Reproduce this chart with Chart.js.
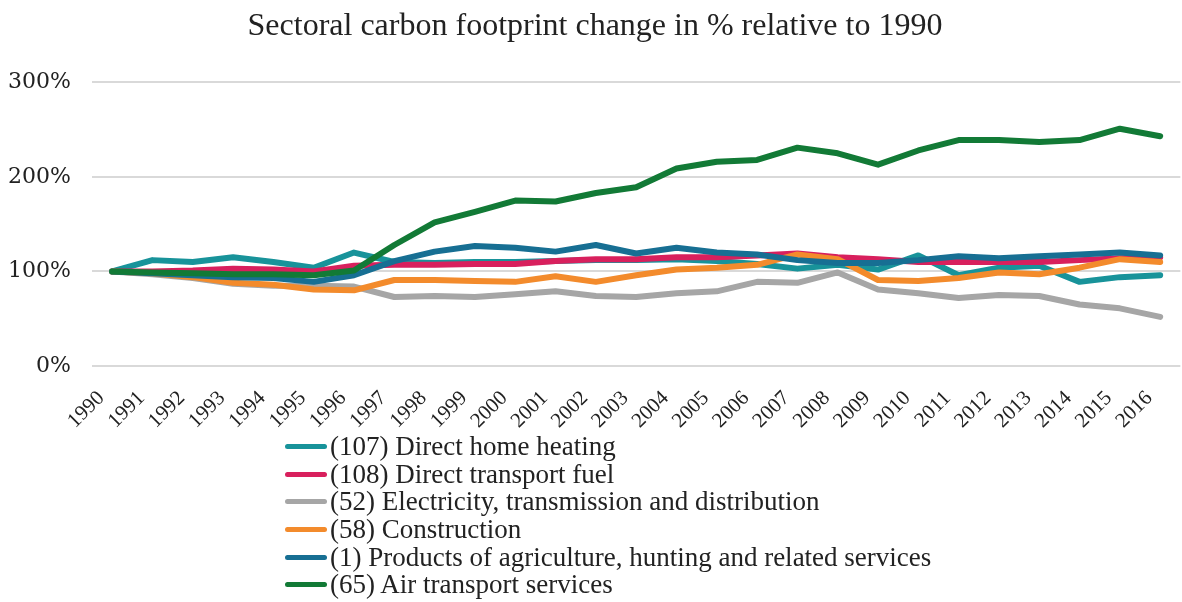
<!DOCTYPE html>
<html lang="en">
<head>
    <meta charset="UTF-8">
    <title>Sectoral carbon footprint change</title>
    <script src="https://cdn.jsdelivr.net/npm/chart.js"></script>
    <style>
        body {
            margin: 0;
            padding: 0;
            background: #ffffff;
            overflow: hidden;
        }
        .wrap {
            position: relative;
            width: 1190px;
            height: 602px;
        }
        .chart-box {
            position: absolute;
            left: 0;
            top: 0;
            width: 1190px;
            height: 432px;
        }
        .legend {
            position: absolute;
            left: 285px;
            top: 433px;
            margin: 0;
            padding: 0;
            list-style: none;
            font-family: "Liberation Serif", serif;
            font-size: 27px;
            color: #222222;
        }
        .legend li {
            display: flex;
            align-items: center;
            height: 27.6px;
            white-space: nowrap;
        }
        .legend .swatch {
            display: inline-block;
            width: 42px;
            height: 5px;
            border-radius: 3px;
            margin-right: 3px;
        }
    </style>
</head>
<body>
    <div class="wrap">
        <div class="chart-box">
            <canvas id="footprintChart"></canvas>
        </div>
        <ul class="legend" id="legend"></ul>
    </div>

    <script>
        const years = ['1990', '1991', '1992', '1993', '1994', '1995', '1996', '1997', '1998', '1999',
            '2000', '2001', '2002', '2003', '2004', '2005', '2006', '2007', '2008', '2009',
            '2010', '2011', '2012', '2013', '2014', '2015', '2016'];

        // change relative to 1990, in %
        const homeHeating = [100, 112, 110, 115, 110, 104, 120, 110, 109, 110, 110, 111, 112, 112, 113,
            111, 108, 103, 107, 102, 117, 96, 104, 106, 89, 94, 96];
        const transportFuel = [100, 100, 101, 103, 102, 100, 106, 107, 107, 108, 108, 111, 113, 113, 115,
            115, 117, 119, 115, 113, 110, 110, 110, 110, 112, 114, 115];
        const electricity = [100, 97, 93, 87, 85, 85, 84, 73, 74, 73, 76, 79, 74, 73, 77,
            79, 89, 88, 99, 81, 77, 72, 75, 74, 65, 61, 52];
        const construction = [100, 98, 94, 88, 86, 81, 80, 91, 91, 90, 89, 95, 89, 96, 102,
            104, 107, 118, 113, 91, 90, 93, 99, 97, 104, 113, 110];
        const agriculture = [100, 98, 96, 94, 93, 89, 96, 111, 121, 127, 125, 121, 128, 119, 125,
            120, 118, 112, 109, 109, 112, 116, 114, 116, 118, 120, 117];
        const airTransport = [100, 99, 98, 97, 97, 96, 101, 128, 152, 163, 175, 174, 183, 189, 209,
            216, 218, 231, 225, 213, 228, 239, 239, 237, 239, 251, 243];

        const yTicks = [0, 100, 200, 300];

        const seriesNames = [
            '(107) Direct home heating',
            '(108) Direct transport fuel',
            '(52) Electricity, transmission and distribution',
            '(58) Construction',
            '(1) Products of agriculture, hunting and related services',
            '(65) Air transport services'
        ];
        const seriesColors = ['#18939a', '#d8205d', '#a6a6a6', '#f38b2c', '#176f93', '#127a36'];
        const seriesData = [homeHeating, transportFuel, electricity, construction, agriculture, airTransport];

        const serif = '"Liberation Serif", serif';

        const datasets = seriesNames.map((name, i) => ({
            label: name,
            data: seriesData[i],
            borderColor: seriesColors[i],
            backgroundColor: seriesColors[i],
            borderWidth: 6,
            borderJoinStyle: 'round',
            borderCapStyle: 'round',
            pointRadius: 0,
            tension: 0,
            // later series sit on top
            order: seriesNames.length - i
        }));

        const chart = new Chart(document.getElementById('footprintChart'), {
            type: 'line',
            data: { labels: years, datasets: datasets },
            options: {
                responsive: true,
                maintainAspectRatio: false,
                animation: false,
                layout: { padding: { left: 0, right: 0, top: 0, bottom: 0 } },
                plugins: {
                    legend: { display: false },
                    tooltip: { enabled: false },
                    title: {
                        display: true,
                        text: 'Sectoral carbon footprint change in % relative to 1990',
                        color: '#222222',
                        font: { family: serif, size: 32, weight: 'normal' },
                        padding: { top: 7, bottom: 37 }
                    }
                },
                scales: {
                    x: {
                        offset: true,
                        grid: { display: false },
                        border: { display: false },
                        ticks: {
                            color: '#222222',
                            font: { family: serif, size: 21 },
                            maxRotation: 45,
                            minRotation: 45,
                            autoSkip: false,
                            padding: 12,
                            labelOffset: -11
                        },
                        afterFit: scale => { scale.height = 66; }
                    },
                    y: {
                        min: 0,
                        max: 300,
                        afterBuildTicks: scale => {
                            scale.ticks = yTicks.map(v => ({ value: v }));
                        },
                        grid: {
                            color: '#d9d9d9',
                            lineWidth: 2,
                            drawTicks: false
                        },
                        border: { display: false },
                        ticks: {
                            color: '#222222',
                            font: { family: '"DejaVu Serif", serif', size: 22 },
                            padding: 21,
                            callback: v => v + '%'
                        },
                        afterFit: scale => { scale.width = 92; }
                    }
                }
            }
        });

        // vertical legend under the plot
        const legend = document.getElementById('legend');
        seriesNames.forEach((name, i) => {
            const li = document.createElement('li');
            const sw = document.createElement('span');
            sw.className = 'swatch';
            sw.style.background = seriesColors[i];
            li.appendChild(sw);
            li.appendChild(document.createTextNode(name));
            legend.appendChild(li);
        });
    </script>
</body>
</html>
